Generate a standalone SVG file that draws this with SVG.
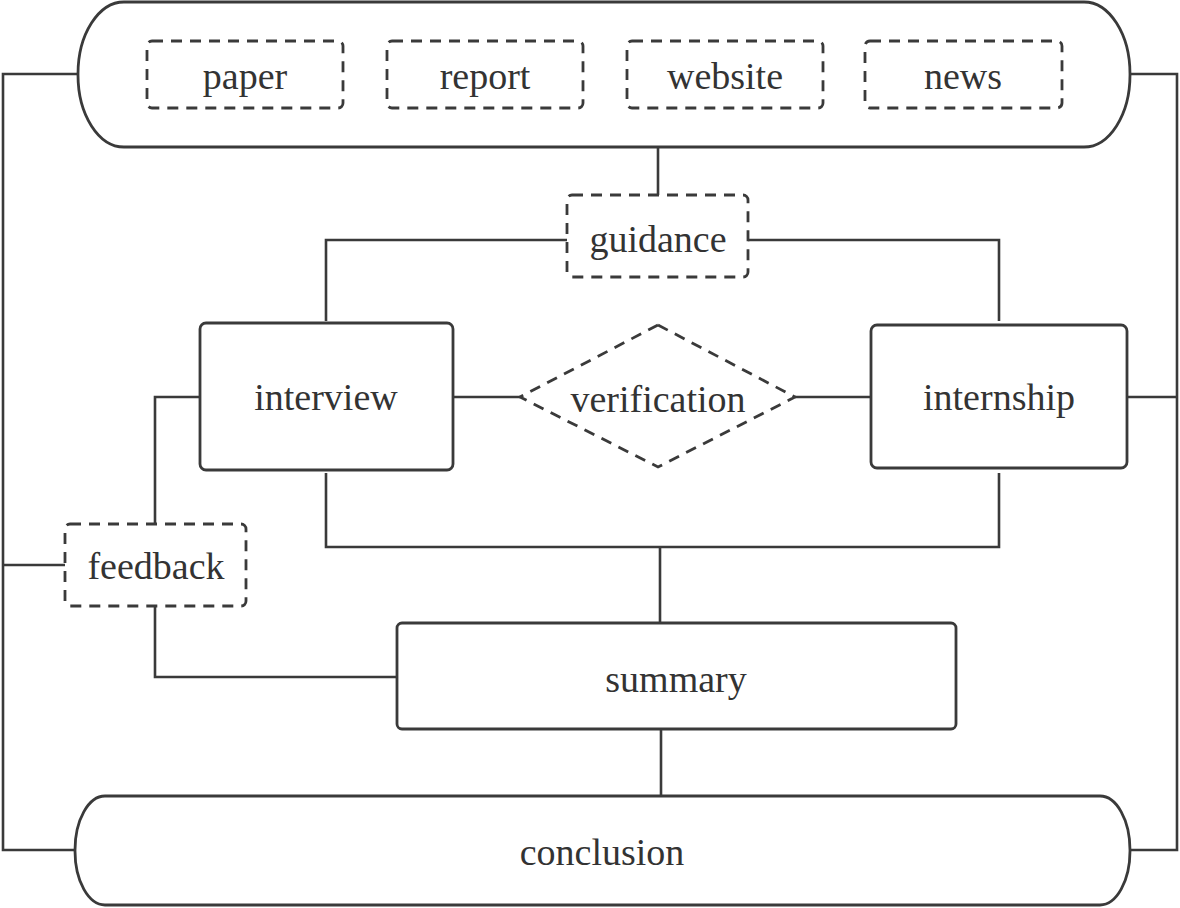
<svg xmlns="http://www.w3.org/2000/svg" width="1180" height="908" viewBox="0 0 1180 908">
<style>
.solid{fill:#fff;stroke:#3a3a3a;stroke-width:2.8}
.dash{fill:#fff;stroke:#3a3a3a;stroke-width:2.8;stroke-dasharray:11 8}
.ln{fill:none;stroke:#3a3a3a;stroke-width:2.6}
text{font-family:'Liberation Serif','DejaVu Serif',serif;font-size:38px;fill:#333;text-anchor:middle}
</style>
<rect width="1180" height="908" fill="#fff"/>
<g id="connectors">
<path class="ln" d="M78 74 H3 V850 H75"/>
<path class="ln" d="M1130 74 H1177 V850 H1130"/>
<path class="ln" d="M658 147 V195"/>
<path class="ln" d="M567 240 H326 V321"/>
<path class="ln" d="M748 240 H999 V321"/>
<path class="ln" d="M453 397 H520"/>
<path class="ln" d="M795 397 H871"/>
<path class="ln" d="M1127 397 H1177"/>
<path class="ln" d="M326 473 V547 H999 V473"/>
<path class="ln" d="M660 547 V623"/>
<path class="ln" d="M661 729 V796"/>
<path class="ln" d="M3 565 H65"/>
<path class="ln" d="M155 524 V397 H200"/>
<path class="ln" d="M155 606 V677 H397"/>
</g>
<g id="sources">
<rect class="solid" x="78" y="2" width="1052" height="145" rx="46" ry="72"/>
</g>
<g id="paper"><rect class="dash" x="147" y="41" width="196" height="67" rx="5"/><text x="245" y="89" font-family="Liberation Serif, serif">paper</text></g>
<g id="report"><rect class="dash" x="387" y="41" width="196" height="67" rx="5"/><text x="485" y="89">report</text></g>
<g id="website"><rect class="dash" x="627" y="41" width="196" height="67" rx="5"/><text x="725" y="89">website</text></g>
<g id="news"><rect class="dash" x="865" y="41" width="197" height="67" rx="5"/><text x="963" y="89">news</text></g>
<g id="guidance"><rect class="dash" x="567" y="195" width="181" height="82" rx="5"/><text x="658" y="252">guidance</text></g>
<g id="interview"><rect class="solid" x="200" y="323" width="253" height="147" rx="6"/><text x="326" y="410">interview</text></g>
<g id="verification"><polygon class="dash" points="658,325 795,397 658,467 520,397"/><text x="658" y="412">verification</text></g>
<g id="internship"><rect class="solid" x="871" y="325" width="256" height="143" rx="6"/><text x="999" y="410">internship</text></g>
<g id="feedback"><rect class="dash" x="65" y="524" width="181" height="82" rx="5"/><text x="156" y="579">feedback</text></g>
<g id="summary"><rect class="solid" x="397" y="623" width="559" height="106" rx="5"/><text x="676" y="692">summary</text></g>
<g id="conclusion"><rect class="solid" x="75" y="796" width="1055" height="109" rx="30" ry="54"/><text x="602" y="865">conclusion</text></g>
</svg>
